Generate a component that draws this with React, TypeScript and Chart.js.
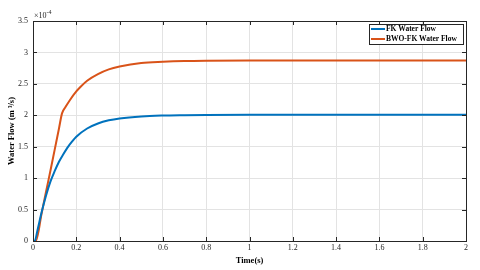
import React, { useEffect, useRef } from "react";
import { Chart, registerables } from "chart.js";

Chart.register(...registerables);

// Time (s) and flow values in units of 1e-4 m^3/s
const timeFK = [0, 0.008, 0.02, 0.04, 0.06, 0.08, 0.1, 0.12, 0.14, 0.16, 0.18, 0.2, 0.25, 0.3, 0.35, 0.4, 0.5, 0.6, 0.7, 0.8, 1.0, 1.5, 2.0];
const fkFlow = [0, 0, 0.16, 0.46, 0.72, 0.94, 1.11, 1.26, 1.38, 1.49, 1.58, 1.66, 1.79, 1.87, 1.92, 1.95, 1.982, 1.996, 2.002, 2.006, 2.01, 2.01, 2.01];

const timeBWO = [0, 0.013, 0.04, 0.06, 0.08, 0.1, 0.12, 0.134, 0.15, 0.17, 0.2, 0.22, 0.25, 0.3, 0.35, 0.4, 0.5, 0.6, 0.7, 0.8, 1.0, 1.5, 2.0];
const bwoFlow = [0, 0, 0.44, 0.78, 1.11, 1.45, 1.79, 2.03, 2.13, 2.24, 2.38, 2.455, 2.55, 2.655, 2.73, 2.775, 2.83, 2.85, 2.862, 2.867, 2.87, 2.87, 2.87];

const seriesLabels = ["FK Water Flow", "BWO-FK Water Flow"];
const seriesColors = ["#0072BD", "#D95319"];
const xTicks = [0, 0.2, 0.4, 0.6, 0.8, 1, 1.2, 1.4, 1.6, 1.8, 2];
const yTicks = [0, 0.5, 1, 1.5, 2, 2.5, 3, 3.5];
const exponentLabel = "-4";

const SERIF = "'Liberation Serif', 'Times New Roman', serif";

const framePlugin = {
  id: "matlabFrame",
  afterDraw(chart: any) {
    const { ctx, chartArea: a, scales } = chart;
    const xs = scales.x;
    const ys = scales.y;
    ctx.save();
    ctx.strokeStyle = "#262626";
    ctx.lineWidth = 1;
    ctx.strokeRect(Math.round(a.left) + 0.5, Math.round(a.top) + 0.5, Math.round(a.right - a.left), Math.round(a.bottom - a.top));
    // inward tick marks
    ctx.beginPath();
    xTicks.forEach((t) => {
      const px = Math.round(xs.getPixelForValue(t)) + 0.5;
      ctx.moveTo(px, a.bottom);
      ctx.lineTo(px, a.bottom - 4);
      ctx.moveTo(px, a.top);
      ctx.lineTo(px, a.top + 4);
    });
    yTicks.forEach((t) => {
      const py = Math.round(ys.getPixelForValue(t)) + 0.5;
      ctx.moveTo(a.left, py);
      ctx.lineTo(a.left + 4, py);
      ctx.moveTo(a.right, py);
      ctx.lineTo(a.right - 4, py);
    });
    ctx.stroke();

    // exponent label
    ctx.fillStyle = "#262626";
    ctx.textBaseline = "alphabetic";
    ctx.textAlign = "left";
    ctx.font = `8px ${SERIF}`;
    ctx.fillText("\u00d710", a.left + 1, a.top - 3);
    const w = ctx.measureText("\u00d710").width;
    ctx.font = `6px ${SERIF}`;
    ctx.fillText(exponentLabel, a.left + 1 + w, a.top - 7);

    // legend
    const bx = 369, by = 24, bw = 94, bh = 20;
    ctx.fillStyle = "#ffffff";
    ctx.fillRect(bx, by, bw, bh);
    ctx.strokeStyle = "#262626";
    ctx.lineWidth = 1;
    ctx.strokeRect(bx + 0.5, by + 0.5, bw, bh);
    ctx.font = `bold 7.5px ${SERIF}`;
    ctx.textBaseline = "middle";
    seriesLabels.forEach((lab, i) => {
      const yy = by + 5 + i * 10;
      ctx.strokeStyle = seriesColors[i];
      ctx.lineWidth = 2;
      ctx.beginPath();
      ctx.moveTo(bx + 2, yy);
      ctx.lineTo(bx + 16, yy);
      ctx.stroke();
      ctx.fillStyle = "#000000";
      ctx.fillText(lab, bx + 17, yy);
    });
    ctx.restore();
  },
};

export default function App() {
  const ref = useRef<HTMLCanvasElement | null>(null);
  useEffect(() => {
    if (!ref.current) return;
    const chart = new Chart(ref.current, {
      type: "line",
      data: {
        datasets: [
          {
            label: seriesLabels[0],
            data: timeFK.map((t, i) => ({ x: t, y: fkFlow[i] })),
            borderColor: seriesColors[0],
            borderWidth: 2,
            pointRadius: 0,
            cubicInterpolationMode: "monotone",
          },
          {
            label: seriesLabels[1],
            data: timeBWO.map((t, i) => ({ x: t, y: bwoFlow[i] })),
            borderColor: seriesColors[1],
            borderWidth: 2,
            pointRadius: 0,
            cubicInterpolationMode: "monotone",
          },
        ],
      },
      options: {
        animation: false,
        responsive: false,
        devicePixelRatio: 1,
        layout: { padding: { top: 21, right: 14, left: 0, bottom: 0 } },
        plugins: { legend: { display: false }, tooltip: { enabled: false } },
        scales: {
          x: {
            type: "linear",
            min: 0,
            max: 2,
            afterBuildTicks: (s: any) => {
              s.ticks = xTicks.map((v) => ({ value: v }));
            },
            afterFit: (s: any) => {
              s.height = 29;
            },
            ticks: {
              autoSkip: false,
              maxRotation: 0,
              padding: 2,
              color: "#262626",
              font: { family: SERIF, size: 8 },
              callback: (v: any) => String(Number(v)),
            },
            grid: { color: "#e3e3e3", drawTicks: false },
            border: { display: false },
            title: {
              display: true,
              text: "Time(s)",
              color: "#000",
              font: { family: SERIF, size: 8.5, weight: "bold" },
              padding: { top: 0, bottom: 4 },
            },
          },
          y: {
            type: "linear",
            min: 0,
            max: 3.5,
            afterBuildTicks: (s: any) => {
              s.ticks = yTicks.map((v) => ({ value: v }));
            },
            afterFit: (s: any) => {
              s.width = 33;
            },
            ticks: {
              autoSkip: false,
              padding: 5,
              color: "#262626",
              font: { family: SERIF, size: 8 },
              callback: (v: any) => String(Number(v)),
            },
            grid: { color: "#e3e3e3", drawTicks: false },
            border: { display: false },
            title: {
              display: true,
              text: "Water Flow (m \u00b3/s)",
              color: "#000",
              font: { family: SERIF, size: 8.5, weight: "bold" },
              padding: { top: 7, bottom: 0 },
            },
          },
        },
      },
      plugins: [framePlugin],
    } as any);
    return () => chart.destroy();
  }, []);
  return (
    <div style={{ position: "fixed", left: 0, top: 0, width: 480, height: 270, background: "#fff" }}>
      <canvas ref={ref} width={480} height={270} style={{ width: 480, height: 270 }} />
    </div>
  );
}
